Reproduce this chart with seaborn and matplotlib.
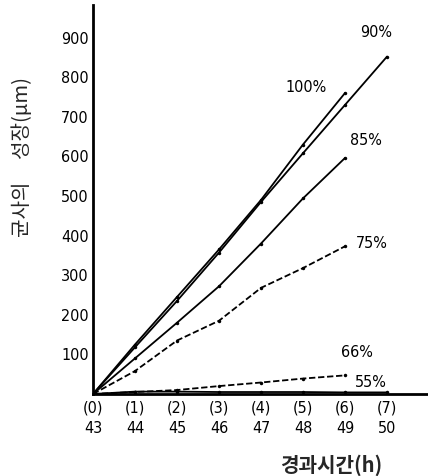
import matplotlib
matplotlib.use("Agg")
import matplotlib.pyplot as plt
import seaborn as sns
import pandas as pd

sns.set_theme(style="white")
plt.rcParams['font.family'] = ['DejaVu Sans']
plt.rcParams['font.stretch'] = 'condensed'

# ---- data ----
hours = [0, 1, 2, 3, 4, 5, 6, 7]
clock = [43, 44, 45, 46, 47, 48, 49, 50]
y_ticks = [100, 200, 300, 400, 500, 600, 700, 800, 900]

s100 = [0, 125, 245, 365, 490, 630, 760]
s90 = [0, 118, 235, 357, 485, 608, 730, 852]
s85 = [0, 90, 180, 272, 380, 494, 596]
s75 = [0, 58, 135, 185, 268, 318, 373]
s66 = [0, 5, 10, 20, 29, 39, 47]
s55 = [0, 6, 6, 5, 5, 5, 4, 4]

series = [
    ("100%", s100, "-"),
    ("90%", s90, "-"),
    ("85%", s85, "-"),
    ("75%", s75, "--"),
    ("66%", s66, "--"),
    ("55%", s55, "-"),
]

rows = []
for name, vals, _ in series:
    for h, v in zip(hours, vals):
        rows.append({"series": name, "hour": h, "growth": v})
df = pd.DataFrame(rows)

fig = plt.figure(figsize=(4.28, 4.76), dpi=100)
ax = fig.add_axes([93 / 428, (476 - 394) / 476, (428 - 93) / 428, (394 - 5) / 476])

for name, vals, ls in series:
    sub = df[df["series"] == name]
    sns.lineplot(data=sub, x="hour", y="growth", ax=ax, color="black",
                 linestyle=ls, linewidth=1.3, marker="o", markersize=2.5,
                 markeredgewidth=0, legend=False, estimator=None)
for line in ax.lines:
    if line.get_linestyle() == "--":
        line.set_dashes((3.5, 1.5))

ax.set_xlim(0, (428 - 93) / 42)
ax.set_ylim(0, (394 - 5) / 0.396)

for side in ["top", "right"]:
    ax.spines[side].set_visible(False)
for side in ["left", "bottom"]:
    ax.spines[side].set_linewidth(2.0)
    ax.spines[side].set_color("black")

ax.set_yticks(y_ticks)
ax.set_yticklabels([str(t) for t in y_ticks], fontsize=11.5)
ax.set_xticks(hours)
ax.set_xticklabels([f"({h})\n{c}" for h, c in zip(hours, clock)], fontsize=11.5,
                   linespacing=1.45)
ax.tick_params(axis="y", direction="out", length=2, width=1, pad=1, colors="black")
ax.tick_params(axis="x", direction="in", length=2, width=1, pad=5, colors="black")

ax.set_xlabel("")
ax.set_ylabel("")

labels = [("90%", 6.74, 912), ("100%", 5.07, 773), ("85%", 6.5, 641),
          ("75%", 6.64, 381), ("66%", 6.29, 104), ("55%", 6.62, 30)]
for txt, xx, yy in labels:
    ax.text(xx, yy, txt, fontsize=11.5, ha="center", va="center", color="black")

kfont = ['Noto Sans CJK KR', 'DejaVu Sans']
fig.text(331 / 428, 1 - 465 / 476, "경과시간(h)", family=kfont, fontsize=14.5,
         fontweight="bold", ha="center", va="center")
fig.text(23 / 428, 1 - 157 / 476, "균사의     성장(μm)", family=kfont, fontsize=14.5,
         rotation=90, ha="center", va="center")

fig.savefig("out.png", dpi=100)
